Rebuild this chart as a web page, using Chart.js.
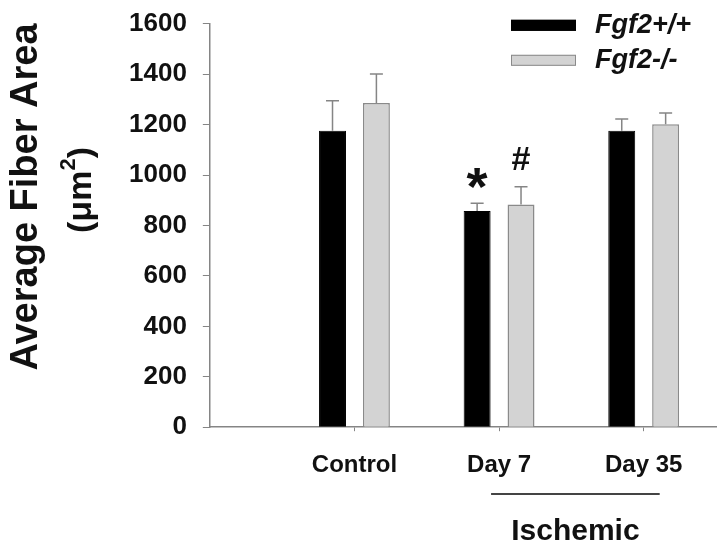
<!DOCTYPE html>
<html>
<head>
<meta charset="utf-8">
<script src="https://cdn.jsdelivr.net/npm/chart.js@4.4.1/dist/chart.umd.min.js"></script>
<style>
  html, body { margin: 0; padding: 0; background: #fff; }
  #wrap { width: 725px; height: 555px; }
</style>
</head>
<body>
<div id="wrap"><canvas id="chart"></canvas></div>
<script>
// groups on the x axis (positions 1..3, empty slot at 0)
const groups = ['Control', 'Day 7', 'Day 35'];
const seriesNames = ['Fgf2+/+', 'Fgf2-/-'];

// mean fiber area, um^2
const wildType = [1176, 858, 1176];
const knockOut = [1286, 883, 1202];

// upper error (SEM)
const wildTypeErr = [119, 30, 46];
const knockOutErr = [115, 71, 44];

// significance marks above bars
const wildTypeMarks = ['', '*', ''];
const knockOutMarks = ['', '#', ''];

const yTicks = [0, 200, 400, 600, 800, 1000, 1200, 1400, 1600];

const FONT = '"Liberation Sans", Arial, sans-serif';
const AXIS_GREY = '#858585';

const toPoints = vals => vals.map((v, i) => ({ x: i + 1, y: v }));

// error bars + * / # marks
const errorBarPlugin = {
    id: 'errorBars',
    afterDatasetsDraw(chart) {
        const { ctx, scales: { y } } = chart;
        chart.data.datasets.forEach((ds, di) => {
            const meta = chart.getDatasetMeta(di);
            meta.data.forEach((bar, i) => {
                const top = y.getPixelForValue(ds.data[i].y + ds.errors[i]);
                ctx.save();
                ctx.strokeStyle = AXIS_GREY;
                ctx.lineWidth = 1.5;
                ctx.beginPath();
                ctx.moveTo(bar.x, bar.y);
                ctx.lineTo(bar.x, top);
                ctx.moveTo(bar.x - 6.5, top);
                ctx.lineTo(bar.x + 6.5, top);
                ctx.stroke();

                const mark = ds.marks[i];
                if (mark) {
                    ctx.fillStyle = '#111';
                    ctx.font = (mark === '*' ? 'bold 54px ' : 'bold 34px ') + FONT;
                    ctx.textAlign = 'center';
                    ctx.textBaseline = 'alphabetic';
                    const m = ctx.measureText(mark);
                    const gap = mark === '*' ? 14 : 17;
                    ctx.fillText(mark, bar.x, top - gap - m.actualBoundingBoxDescent);
                }
                ctx.restore();
            });
        });
    }
};

// legend, y title, ischemic bracket
const decorPlugin = {
    id: 'decor',
    afterDraw(chart) {
        const { ctx, chartArea, scales: { x } } = chart;
        ctx.save();

        // legend
        chart.data.datasets.forEach((ds, i) => {
            const lx = chartArea.right - 205;
            const ly = chartArea.top - 4 + i * 35;
            ctx.fillStyle = ds.backgroundColor;
            ctx.strokeStyle = ds.borderColor;
            ctx.lineWidth = 1;
            ctx.fillRect(lx, ly, 65, 11);
            ctx.strokeRect(lx + 0.5, ly + 0.5, 64, 10);
            ctx.fillStyle = '#111';
            ctx.font = 'italic bold 27px ' + FONT;
            ctx.textAlign = 'left';
            ctx.textBaseline = 'middle';
            ctx.fillText(ds.label, lx + 84, ly + 6);
        });

        // y axis title, two lines
        ctx.fillStyle = '#111';
        ctx.save();
        ctx.translate(27, 197);
        ctx.rotate(-Math.PI / 2);
        ctx.textAlign = 'center';
        ctx.textBaseline = 'middle';
        ctx.font = 'bold 38px ' + FONT;
        ctx.fillText('Average Fiber Area', 0, 0);
        ctx.restore();

        ctx.save();
        ctx.translate(80, 190);
        ctx.rotate(-Math.PI / 2);
        ctx.textBaseline = 'middle';
        const a = '(\u03bcm', b = ')';
        ctx.font = 'bold 34px ' + FONT;
        const wa = ctx.measureText(a).width;
        const wb = ctx.measureText(b).width;
        ctx.font = 'bold 22px ' + FONT;
        const ws = ctx.measureText('2').width;
        const cx = -(wa + ws + wb) / 2;
        ctx.textAlign = 'left';
        ctx.font = 'bold 34px ' + FONT;
        ctx.fillText(a, cx, 2);
        ctx.font = 'bold 22px ' + FONT;
        ctx.fillText('2', cx + wa, -11);
        ctx.font = 'bold 34px ' + FONT;
        ctx.fillText(b, cx + wa + ws, 2);
        ctx.restore();

        // ischemic bracket under Day 7 and Day 35
        const x1 = x.getPixelForValue(2) - 8;
        const x2 = x.getPixelForValue(3) + 16;
        ctx.strokeStyle = '#444';
        ctx.lineWidth = 2;
        ctx.beginPath();
        ctx.moveTo(x1, 494);
        ctx.lineTo(x2, 494);
        ctx.stroke();
        ctx.fillStyle = '#111';
        ctx.font = 'bold 30px ' + FONT;
        ctx.textAlign = 'center';
        ctx.textBaseline = 'middle';
        ctx.fillText('Ischemic', (x1 + x2) / 2, 532);

        ctx.restore();
    }
};

new Chart(document.getElementById('chart'), {
    type: 'bar',
    data: {
        datasets: [
            {
                label: seriesNames[0],
                data: toPoints(wildType),
                errors: wildTypeErr,
                marks: wildTypeMarks,
                backgroundColor: '#000000',
                borderColor: '#000000',
                borderWidth: 1
            },
            {
                label: seriesNames[1],
                data: toPoints(knockOut),
                errors: knockOutErr,
                marks: knockOutMarks,
                backgroundColor: '#d3d3d3',
                borderColor: '#8a8a8a',
                borderWidth: 1.5
            }
        ]
    },
    options: {
        responsive: true,
        maintainAspectRatio: false,
        animation: false,
        categoryPercentage: 0.607,
        barPercentage: 0.614,
        layout: { padding: { left: 113, right: 9, top: 0, bottom: 55 } },
        plugins: {
            legend: { display: false },
            tooltip: { enabled: false }
        },
        scales: {
            x: {
                type: 'linear',
                offset: false,
                min: 0,
                max: 3.5,
                afterBuildTicks: scale => {
                    scale.ticks = groups.map((g, i) => ({ value: i + 1 }));
                },
                grid: { offset: false, drawOnChartArea: false, tickLength: 4, color: AXIS_GREY },
                border: { color: AXIS_GREY, width: 1.5 },
                ticks: {
                    padding: 20,
                    color: '#111',
                    font: { family: FONT, size: 24, weight: 'bold' },
                    callback: v => groups[v - 1] || ''
                }
            },
            y: {
                min: 0,
                max: 1600,
                afterBuildTicks: scale => {
                    scale.ticks = yTicks.map(v => ({ value: v }));
                },
                grid: { drawOnChartArea: false, tickLength: 7, color: AXIS_GREY },
                border: { color: AXIS_GREY, width: 1.5 },
                ticks: {
                    padding: 16,
                    color: '#111',
                    font: { family: FONT, size: 26, weight: 'bold', lineHeight: 0.6 },
                    callback: v => String(v)
                }
            }
        }
    },
    plugins: [errorBarPlugin, decorPlugin]
});
</script>
</body>
</html>
